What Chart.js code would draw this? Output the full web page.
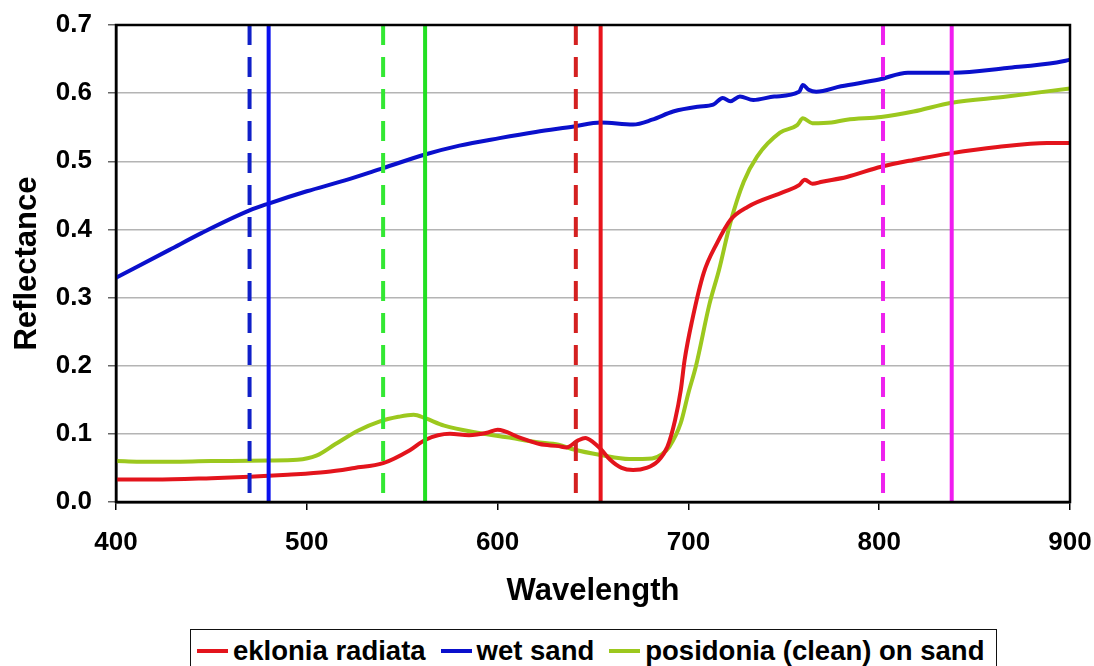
<!DOCTYPE html>
<html>
<head>
<meta charset="utf-8">
<script src="https://cdn.jsdelivr.net/npm/chart.js@4/dist/chart.umd.min.js"></script>
<style>
    html, body { margin: 0; padding: 0; background: #fff; overflow: hidden; }
    #wrap { position: relative; width: 1094px; height: 666px; }
    #legend {
        position: absolute; left: 190px; top: 629px; width: 807px; height: 60px;
        box-sizing: border-box; border: 1.5px solid #111; background: #fff;
        display: flex; align-items: flex-start; padding: 8px 0 0 6px;
        font: bold 27.5px 'Liberation Sans', Arial, sans-serif; color: #000;
        white-space: nowrap;
    }
    #legend .item { display: flex; flex-shrink: 0; align-items: center; margin-right: 15px; height: 26px; }
    #legend .swatch { width: 31px; height: 4px; margin-right: 5px; flex-shrink: 0; }
</style>
</head>
<body>
<div id="wrap">
    <canvas id="spectra-canvas" width="1094" height="666"></canvas>
    <div id="legend"></div>
</div>
<script>
// ========== Data
let redWl = [400, 420, 450, 470, 490, 510, 525, 540, 554, 562, 575, 585, 595, 600, 612, 622, 632, 636, 642, 646, 650, 654, 659, 665, 671, 678, 684, 689, 693, 696, 698, 702, 708, 715, 722, 731, 750, 758, 761, 765, 770, 783, 801, 818, 838, 862, 888, 900];
let redVal = [0.033, 0.033, 0.035, 0.037, 0.040, 0.044, 0.050, 0.057, 0.076, 0.091, 0.100, 0.098, 0.102, 0.106, 0.094, 0.085, 0.082, 0.080, 0.090, 0.094, 0.088, 0.078, 0.062, 0.050, 0.047, 0.050, 0.060, 0.081, 0.120, 0.164, 0.208, 0.267, 0.336, 0.380, 0.414, 0.433, 0.455, 0.465, 0.473, 0.467, 0.470, 0.477, 0.492, 0.502, 0.512, 0.521, 0.527, 0.527];

let blueWl = [400, 428, 445, 470, 480, 500, 520, 540, 562, 580, 601, 620, 640, 654, 671, 681, 692, 705, 713, 718, 722, 727, 734, 745, 758, 760, 763, 767, 780, 800, 815, 839, 867, 893, 900];
let blueVal = [0.329, 0.370, 0.395, 0.428, 0.438, 0.456, 0.472, 0.490, 0.510, 0.523, 0.534, 0.543, 0.551, 0.557, 0.554, 0.561, 0.573, 0.580, 0.583, 0.593, 0.588, 0.595, 0.590, 0.595, 0.602, 0.612, 0.605, 0.602, 0.610, 0.620, 0.630, 0.630, 0.637, 0.645, 0.649];

let greenWl = [400, 420, 450, 480, 495, 505, 515, 527, 538, 548, 556, 562, 572, 591, 605, 620, 632, 640, 654, 669, 681, 686, 690, 696, 700, 704, 711, 716, 722, 729, 736, 748, 757, 760, 765, 775, 783, 801, 818, 838, 867, 900];
let greenVal = [0.060, 0.059, 0.060, 0.061, 0.062, 0.068, 0.085, 0.105, 0.118, 0.125, 0.128, 0.123, 0.112, 0.101, 0.095, 0.088, 0.084, 0.077, 0.069, 0.063, 0.064, 0.070, 0.081, 0.116, 0.160, 0.200, 0.290, 0.340, 0.410, 0.470, 0.507, 0.542, 0.553, 0.563, 0.556, 0.557, 0.561, 0.565, 0.573, 0.586, 0.595, 0.607];

let seriesLabels = ['eklonia radiata', 'wet sand', 'posidonia (clean) on sand'];

// band markers (wavelength, dashed or not)
let markerWl = [470, 480, 540, 562, 641, 654, 802, 838];
let markerDashed = [true, false, true, false, true, false, true, false];

let xTicks = [400, 500, 600, 700, 800, 900];
let yTicks = [0, 0.1, 0.2, 0.3, 0.4, 0.5, 0.6, 0.7];

// ========== Colors
let redColor = '#E3141C';
let blueColor = '#0A10CC';
let greenColor = '#9CC81E';
let markerColors = ['#1020C8', '#0A10EE', '#33E833', '#22E022', '#D42020', '#E8141C', '#EE22EE', '#F01CF0'];

let fontFamily = "'Liberation Sans', Arial, sans-serif";

function toPoints(xs, ys) {
    return xs.map((x, i) => ({ x: x, y: ys[i] }));
}

function curve(label, xs, ys, color) {
    return {
        label: label,
        data: toPoints(xs, ys),
        borderColor: color,
        backgroundColor: color,
        borderWidth: 4,
        pointRadius: 0,
        cubicInterpolationMode: 'monotone',
        order: 2
    };
}

function markerLines() {
    return markerWl.map((wl, i) => ({
        data: [{ x: wl, y: yTicks[yTicks.length - 1] }, { x: wl, y: yTicks[0] }],
        borderColor: markerColors[i],
        borderWidth: 4,
        borderDash: markerDashed[i] ? [20, 12] : [],
        pointRadius: 0,
        order: 1
    }));
}

// plot frame (top + right edges)
let framePlugin = {
    id: 'frame',
    afterDatasetsDraw(chart) {
        let a = chart.chartArea;
        let ctx = chart.ctx;
        ctx.save();
        ctx.strokeStyle = '#000';
        ctx.lineWidth = 2.5;
        ctx.strokeRect(a.left, a.top, a.right - a.left, a.bottom - a.top);
        ctx.restore();
    }
};

function renderSpectraChart() {
    let canvas = document.getElementById('spectra-canvas');
    let chart = new Chart(canvas, {
        type: 'line',
        data: {
            datasets: [
                ...markerLines(),
                curve(seriesLabels[0], redWl, redVal, redColor),
                curve(seriesLabels[1], blueWl, blueVal, blueColor),
                curve(seriesLabels[2], greenWl, greenVal, greenColor)
            ]
        },
        options: {
            responsive: false,
            animation: false,
            layout: { padding: { top: 25, right: 24, bottom: 40, left: 0 } },
            plugins: { legend: { display: false }, tooltip: { enabled: false } },
            scales: {
                x: {
                    type: 'linear',
                    min: xTicks[0],
                    max: xTicks[xTicks.length - 1],
                    afterBuildTicks: (s) => { s.ticks = xTicks.map(v => ({ value: v })); },
                    afterFit: (s) => { s.height = 124; s.paddingLeft = 0; s.paddingRight = 0; },
                    border: { color: '#000', width: 2.5 },
                    grid: { drawOnChartArea: false, tickLength: 8, tickColor: '#000', lineWidth: 1.5 },
                    ticks: { color: '#000', padding: 17, font: { family: fontFamily, size: 26, weight: 'bold' } },
                    title: {
                        display: true, text: 'Wavelength', color: '#000',
                        padding: { top: 0, bottom: 16 },
                        font: { family: fontFamily, size: 31, weight: 'bold' }
                    }
                },
                y: {
                    min: yTicks[0],
                    max: yTicks[yTicks.length - 1],
                    afterBuildTicks: (s) => { s.ticks = yTicks.map(v => ({ value: v })); },
                    afterFit: (s) => { s.width = 116; s.paddingTop = 0; s.paddingBottom = 0; },
                    border: { color: '#000', width: 2.5 },
                    grid: { color: '#B4B4B4', lineWidth: 1.5, tickLength: 8, tickColor: '#666' },
                    ticks: {
                        color: '#000', padding: 16,
                        font: { family: fontFamily, size: 26, weight: 'bold' },
                        callback: (v) => Number(v).toFixed(1)
                    },
                    title: {
                        display: true, text: 'Reflectance', color: '#000',
                        padding: { top: 9, bottom: 0 },
                        font: { family: fontFamily, size: 31, weight: 'bold' }
                    }
                }
            }
        },
        plugins: [framePlugin]
    });
    return chart;
}

function renderLegend() {
    let colors = [redColor, blueColor, greenColor];
    document.getElementById('legend').innerHTML = seriesLabels.map((t, i) =>
        '<div class="item"><span class="swatch" style="background:' + colors[i] + '"></span><span>' + t + '</span></div>'
    ).join('');
}

renderSpectraChart();
renderLegend();
</script>
</body>
</html>
